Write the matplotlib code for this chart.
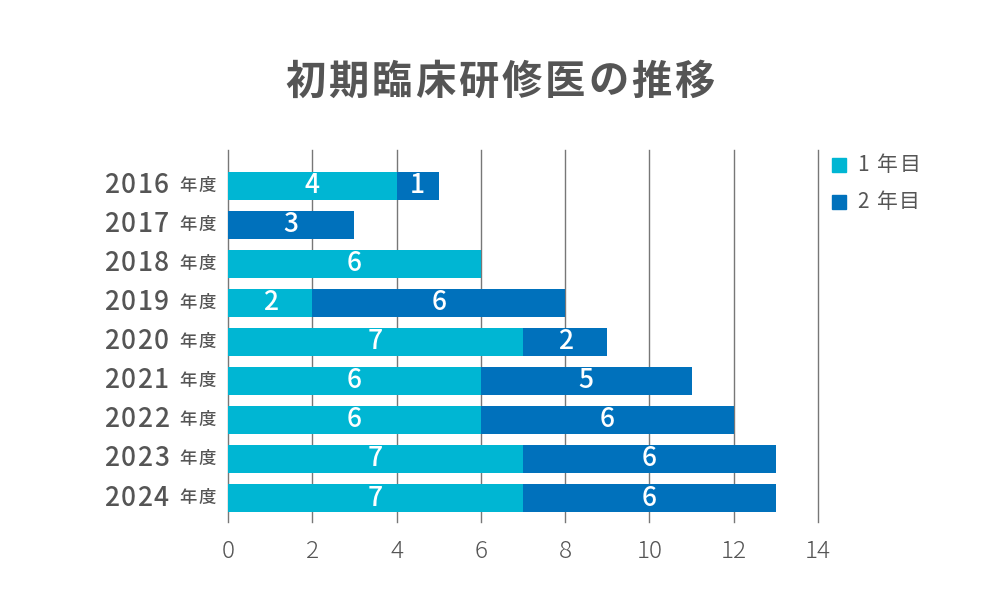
import matplotlib
matplotlib.use("Agg")
import matplotlib.pyplot as plt
from matplotlib.patches import Rectangle
from matplotlib.transforms import IdentityTransform

plt.rcParams['font.family'] = ['Noto Sans CJK JP', 'DejaVu Sans']

years = ["2016", "2017", "2018", "2019", "2020", "2021", "2022", "2023", "2024"]
year_suffix = "年度"
first_year = [4, 0, 6, 2, 7, 6, 6, 7, 7]
second_year = [1, 3, 0, 6, 2, 5, 6, 6, 6]
series_names = ["1 年目", "2 年目"]
xticks = [0, 2, 4, 6, 8, 10, 12, 14]
title = "初期臨床研修医の推移"

c1 = "#00B6D3"
c2 = "#0071BC"
gray = "#555555"

W, H = 1000, 600
fig = plt.figure(figsize=(10, 6), dpi=100)
ax = fig.add_axes([0.228, 0.13, 0.59, 0.62])
renderer = fig.canvas.get_renderer()
ident = IdentityTransform()


def spaced_text(x, y, s, size, spacing, ha="left", **kw):
    """Draw text char by char in display pixels with extra letter spacing."""
    widths = []
    for ch in s:
        t = fig.text(0, 0, ch, fontsize=size, transform=ident, **kw)
        bb = t.get_window_extent(renderer)
        widths.append(bb.width if ch != " " else size * 0.35)
        t.remove()
    total = sum(widths) + spacing * (len(s) - 1)
    if ha == "right":
        x0 = x - total
    elif ha == "center":
        x0 = x - total / 2
    else:
        x0 = x
    for ch, w in zip(s, widths):
        fig.text(x0, y, ch, fontsize=size, transform=ident, ha="left",
                 va="center", **kw)
        x0 += w + spacing


ypos = list(range(len(years)))
ax.barh(ypos, first_year, height=0.72, color=c1, zorder=3)
ax.barh(ypos, second_year, left=first_year, height=0.72, color=c2, zorder=3)

for i in ypos:
    if first_year[i] > 0:
        ax.text(first_year[i] / 2, i, str(first_year[i]), color="white",
                ha="center", va="center", fontsize=19, fontweight="medium",
                zorder=4)
    if second_year[i] > 0:
        ax.text(first_year[i] + second_year[i] / 2, i, str(second_year[i]),
                color="white", ha="center", va="center", fontsize=19,
                fontweight="medium", zorder=4)

ax.set_xlim(0, 14)
ax.set_ylim(8.615, -0.92)
ax.set_xticks(xticks)
ax.set_xticklabels([str(t) for t in xticks], fontsize=17.5, color=gray,
                   fontweight="light")
ax.set_yticks([])
ax.grid(axis="x", color="#777777", linewidth=1, zorder=0)
for ln in ax.get_xgridlines():
    ln.set_clip_on(False)
for s in ax.spines.values():
    s.set_visible(False)
ax.tick_params(axis="x", length=0, pad=12)

# year labels
for i, y in enumerate(years):
    px, py = ax.transData.transform((0, i))
    spaced_text(px - 59, py, y, 19, 1.5, ha="right", color=gray,
                fontweight="medium")
    spaced_text(px - 12, py, year_suffix, 12.5, 2.5, ha="right", color=gray,
                fontweight="medium")

# title
spaced_text(W / 2, H - 82, title, 29, 3, ha="center", color=gray,
            fontweight="bold")

# legend
for k, (name, col) in enumerate(zip(series_names, [c1, c2])):
    yy = H - (165 + k * 37)
    fig.patches.append(Rectangle((832, yy - 7), 14, 14, transform=ident,
                                 color=col))
    spaced_text(857, yy, name, 15, 1.5, ha="left", color=gray)

fig.savefig("out.png", dpi=100, facecolor="white")
